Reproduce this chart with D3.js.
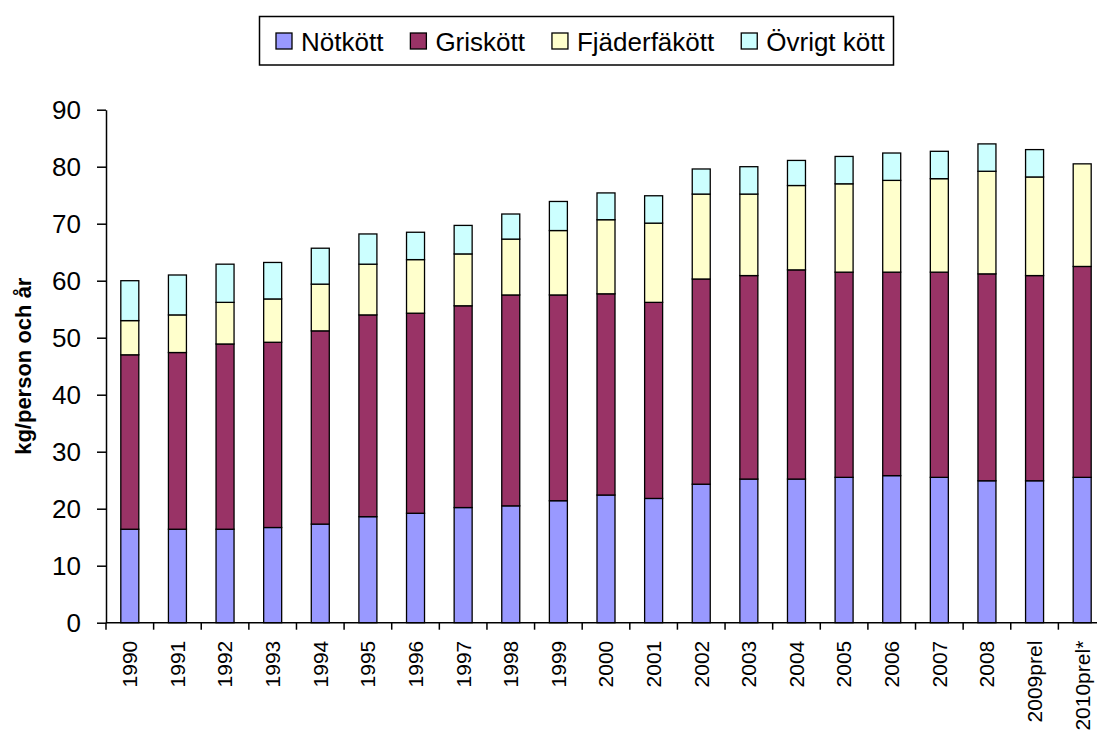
<!DOCTYPE html>
<html>
<head>
<meta charset="utf-8">
<script src="https://cdn.jsdelivr.net/npm/d3@7"></script>
<style>
  html, body { margin: 0; padding: 0; background: #fff; }
  svg { display: block; font-family: "Liberation Sans", Arial, sans-serif; }
</style>
</head>
<body>
<svg id="chart" width="1097" height="733"></svg>
<script>
const categories = ["1990","1991","1992","1993","1994","1995","1996","1997","1998","1999","2000","2001","2002","2003","2004","2005","2006","2007","2008","2009prel","2010prel*"];
const seriesNames = ["Nötkött","Griskött","Fjäderfäkött","Övrigt kött"];
const notkott      = [16.4,16.4,16.4,16.7,17.3,18.6,19.2,20.2,20.5,21.4,22.4,21.8,24.3,25.2,25.2,25.5,25.8,25.5,24.9,24.9,25.5];
const griskott     = [30.6,31.0,32.5,32.5,33.9,35.4,35.1,35.4,37.0,36.1,35.3,34.4,36.0,35.7,36.7,36.0,35.7,36.0,36.3,36.0,37.0];
const fjaderfakott = [6.0,6.6,7.3,7.6,8.2,8.9,9.4,9.1,9.8,11.3,13.0,13.9,14.9,14.3,14.8,15.5,16.1,16.4,18.0,17.3,18.0];
const ovrigtkott   = [7.0,7.0,6.7,6.4,6.3,5.3,4.8,5.0,4.4,5.1,4.7,4.8,4.4,4.8,4.4,4.8,4.8,4.8,4.8,4.8,0];
const yTicks = [0,10,20,30,40,50,60,70,80,90];
const yLabel = "kg/person och år";
const colors = ["#9999FF","#993366","#FFFFCC","#CCFFFF"];

const seriesValues = [notkott, griskott, fjaderfakott, ovrigtkott];
const rows = categories.map((c, i) => {
  const r = { cat: c };
  seriesNames.forEach((s, j) => r[s] = seriesValues[j][i]);
  return r;
});

const svg = d3.select("#chart");
const plotL = 106, plotR = 1106, plotT = 109.7, plotB = 622.7;

const x = d3.scaleBand().domain(categories).range([plotL, plotR]).paddingInner(0).paddingOuter(0);
const y = d3.scaleLinear().domain([0, 90]).range([plotB, plotT]);
const barW = 18;

const stacked = d3.stack().keys(seriesNames)(rows);

const g = svg.append("g");
stacked.forEach((layer, li) => {
  g.selectAll(null).data(layer.filter(d => d[1] - d[0] > 0)).enter().append("rect")
    .attr("x", d => x(d.data.cat) + x.bandwidth() / 2 - barW / 2)
    .attr("y", d => y(d[1]))
    .attr("width", barW)
    .attr("height", d => y(d[0]) - y(d[1]))
    .attr("fill", colors[li])
    .attr("stroke", "#000")
    .attr("stroke-width", 1.3);
});

// Y axis
const yAxis = d3.axisLeft(y).tickValues(yTicks).tickSize(9).tickPadding(16).tickSizeOuter(0);
const ya = svg.append("g").attr("transform", `translate(${plotL},0)`).call(yAxis);
ya.select(".domain").attr("stroke", "#000").attr("stroke-width", 1.5);
ya.selectAll(".tick line").attr("stroke", "#000").attr("stroke-width", 1.5);
ya.selectAll(".tick text").attr("font-size", 26).attr("fill", "#000")
  .attr("font-family", "'Liberation Sans', Arial, sans-serif");

// X axis
const xa = svg.append("g").attr("transform", `translate(0,${plotB})`);
xa.append("line").attr("x1", plotL).attr("x2", 1097).attr("y1", 0).attr("y2", 0)
  .attr("stroke", "#000").attr("stroke-width", 1.5);
const bounds = categories.map(c => x(c)).concat([plotR]);
xa.selectAll("line.tk").data(bounds).enter().append("line").attr("class", "tk")
  .attr("x1", d => d).attr("x2", d => d).attr("y1", 0).attr("y2", 7)
  .attr("stroke", "#000").attr("stroke-width", 1.5);
xa.selectAll("text.lb").data(categories).enter().append("text").attr("class", "lb")
  .attr("transform", d => `translate(${x(d) + x.bandwidth() / 2},18) rotate(-90)`)
  .attr("dy", "0.35em")
  .attr("text-anchor", "end")
  .attr("font-size", 21)
  .attr("fill", "#000")
  .text(d => d);

// Y label
svg.append("text")
  .attr("transform", `translate(31,${(plotT + plotB) / 2}) rotate(-90)`)
  .attr("text-anchor", "middle")
  .attr("font-size", 22)
  .attr("font-weight", "bold")
  .attr("fill", "#000")
  .text(yLabel);

// Legend
const lg = svg.append("g");
lg.append("rect").attr("x", 259.5).attr("y", 16.5).attr("width", 634).attr("height", 48.5)
  .attr("fill", "#fff").attr("stroke", "#000").attr("stroke-width", 1.5);
let cx = 276;
seriesNames.forEach((s, i) => {
  lg.append("rect").attr("x", cx).attr("y", 33).attr("width", 16).attr("height", 16)
    .attr("fill", colors[i]).attr("stroke", "#000").attr("stroke-width", 1.3);
  const t = lg.append("text").attr("x", cx + 25).attr("y", 50.5)
    .attr("font-size", 26).attr("fill", "#000").text(s);
  cx = cx + 25 + t.node().getComputedTextLength() + 27;
});
</script>
</body>
</html>
